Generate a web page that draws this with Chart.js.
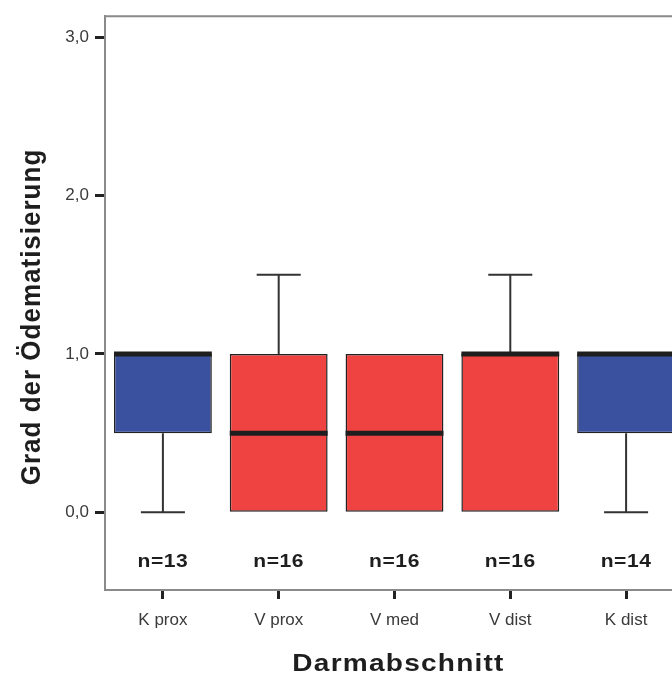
<!DOCTYPE html>
<html lang="de">
<head>
<meta charset="utf-8">
<title>Grad der Ödematisierung</title>
<script src="https://cdn.jsdelivr.net/npm/chart.js@4.4.1/dist/chart.umd.min.js"></script>
<style>
    html, body { margin: 0; padding: 0; background: #fff; overflow: hidden; width: 672px; height: 680px; }
    #wrap { position: absolute; left: 0; top: 0; width: 700px; height: 680px; }
</style>
</head>
<body>
<div id="wrap"><canvas id="boxChart" width="700" height="680"></canvas></div>
<script>
// Darmabschnitte (x categories)
const categories = ['K prox', 'V prox', 'V med', 'V dist', 'K dist'];

// Boxplot statistics
const whiskerLow = [0, 0, 0, 0, 0];
const quartile1 = [0.5, 0, 0, 0, 0.5];
const medians = [1, 0.5, 0.5, 1, 1];
const quartile3 = [1, 1, 1, 1, 1];
const whiskerHigh = [1, 1.5, 1, 1.5, 1];
const sampleSizes = [13, 16, 16, 16, 14];

// y axis ticks
const yTicks = [0, 1, 2, 3];

const FONT = '"Liberation Sans", Arial, sans-serif';
const BLUE = '#3a51a0';
const RED = '#ee4340';
const FRAME = '#8a8a8a';
const INK = '#1e1e1e';

// K = Kontrolle (blau), V = Versuch (rot)
const boxColors = categories.map(c => c.startsWith('K') ? BLUE : RED);

const boxPlotExtras = {
    id: 'boxPlotExtras',
    beforeDatasetsDraw(chart) {
        const { ctx, chartArea } = chart;
        ctx.save();
        ctx.strokeStyle = FRAME;
        ctx.lineWidth = 2;
        ctx.beginPath();
        ctx.moveTo(chartArea.left, chartArea.top);
        ctx.lineTo(chartArea.right, chartArea.top);
        ctx.lineTo(chartArea.right, chartArea.bottom);
        ctx.stroke();
        ctx.restore();
    },
    afterDatasetsDraw(chart) {
        const { ctx, scales: { x, y } } = chart;
        const meta = chart.getDatasetMeta(0);
        ctx.save();
        categories.forEach((cat, i) => {
            const cx = x.getPixelForValue(i);
            const bw = meta.data[i].width;
            const capHalf = bw * 0.225;

            // whiskers
            ctx.strokeStyle = '#333';
            ctx.lineWidth = 2;
            if (whiskerHigh[i] > quartile3[i]) {
                const top = y.getPixelForValue(whiskerHigh[i]);
                ctx.beginPath();
                ctx.moveTo(cx, y.getPixelForValue(quartile3[i]));
                ctx.lineTo(cx, top);
                ctx.moveTo(cx - capHalf, top);
                ctx.lineTo(cx + capHalf, top);
                ctx.stroke();
            }
            if (whiskerLow[i] < quartile1[i]) {
                const bot = y.getPixelForValue(whiskerLow[i]);
                ctx.beginPath();
                ctx.moveTo(cx, y.getPixelForValue(quartile1[i]));
                ctx.lineTo(cx, bot);
                ctx.moveTo(cx - capHalf, bot);
                ctx.lineTo(cx + capHalf, bot);
                ctx.stroke();
            }

            // median
            const my = y.getPixelForValue(medians[i]);
            ctx.strokeStyle = INK;
            ctx.lineWidth = 5;
            ctx.beginPath();
            ctx.moveTo(cx - bw / 2, my);
            ctx.lineTo(cx + bw / 2, my);
            ctx.stroke();

            // n labels
            ctx.save();
            ctx.fillStyle = INK;
            ctx.font = 'bold 18px ' + FONT;
            ctx.letterSpacing = '0.5px';
            ctx.textAlign = 'center';
            ctx.textBaseline = 'middle';
            ctx.translate(cx, y.getPixelForValue(-0.314));
            ctx.scale(1.17, 1);
            ctx.fillText('n=' + sampleSizes[i], 0, 0);
            ctx.restore();
        });
        ctx.restore();
    },
    afterDraw(chart) {
        const { ctx, scales: { x } } = chart;
        ctx.save();
        ctx.fillStyle = INK;
        ctx.textAlign = 'center';
        ctx.textBaseline = 'middle';

        // x title
        ctx.font = 'bold 23px ' + FONT;
        ctx.letterSpacing = '1px';
        ctx.save();
        ctx.translate((x.getPixelForValue(0) + x.getPixelForValue(categories.length - 1)) / 2 + 4, 665);
        ctx.scale(1.22, 1);
        ctx.fillText('Darmabschnitt', 0, 0);
        ctx.restore();

        // y title
        ctx.font = 'bold 26px ' + FONT;
        ctx.letterSpacing = '1px';
        ctx.translate(32, 317);
        ctx.scale(1.08, 1);
        ctx.rotate(-Math.PI / 2);
        ctx.fillText('Grad der Ödematisierung', 0, 0);
        ctx.restore();
    }
};

new Chart(document.getElementById('boxChart'), {
    type: 'bar',
    data: {
        labels: categories,
        datasets: [{
            data: categories.map((c, i) => [quartile1[i], quartile3[i]]),
            backgroundColor: boxColors,
            borderColor: '#222',
            borderWidth: 1.5,
            borderSkipped: false,
            barPercentage: 0.845,
            categoryPercentage: 1
        }]
    },
    options: {
        responsive: false,
        animation: false,
        layout: { padding: { top: 14, right: 16, left: 0, bottom: 0 } },
        plugins: {
            legend: { display: false },
            tooltip: { enabled: false }
        },
        scales: {
            x: {
                type: 'category',
                offset: true,
                afterFit: scale => { scale.height = 90; },
                border: { display: true, color: FRAME, width: 2 },
                grid: {
                    offset: false,
                    drawOnChartArea: false,
                    drawTicks: true,
                    tickLength: 9,
                    tickWidth: 3,
                    tickColor: '#222'
                },
                ticks: {
                    color: '#3a3a3a',
                    font: { family: FONT, size: 17 },
                    padding: 11,
                    maxRotation: 0
                }
            },
            y: {
                min: -0.49,
                max: 3.132,
                afterFit: scale => { scale.width = 105; },
                afterBuildTicks: scale => { scale.ticks = yTicks.map(v => ({ value: v })); },
                border: { display: true, color: FRAME, width: 2 },
                grid: {
                    drawOnChartArea: false,
                    drawTicks: true,
                    tickLength: 10,
                    tickWidth: 3,
                    tickColor: '#222'
                },
                ticks: {
                    color: '#3a3a3a',
                    font: { family: FONT, size: 17 },
                    padding: 6,
                    callback: v => v.toFixed(1).replace('.', ',')
                }
            }
        }
    },
    plugins: [boxPlotExtras]
});
</script>
</body>
</html>
